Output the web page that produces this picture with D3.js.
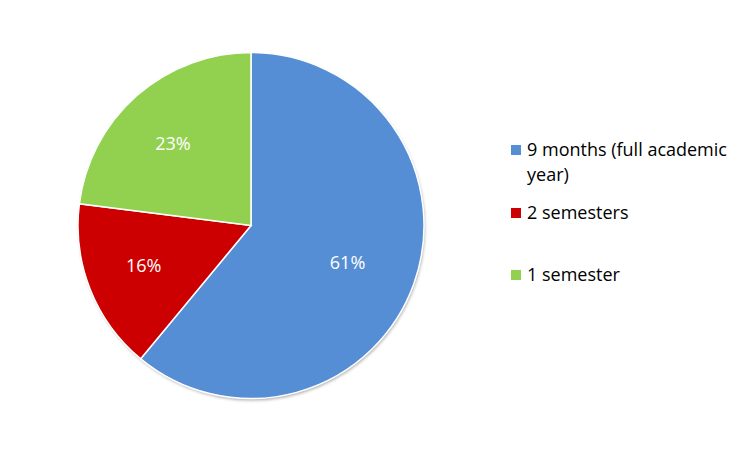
<!DOCTYPE html>
<html>
<head>
<meta charset="utf-8">
<script src="https://d3js.org/d3.v7.min.js"></script>
<style>
  body { margin: 0; background: #fff; }
  svg text { font-family: "Open Sans", Lato, sans-serif; }
</style>
</head>
<body>
<svg id="chart" width="752" height="451"></svg>
<script>
// chart data
var categories = ["9 months (full academic year)", "2 semesters", "1 semester"];
var values = [61, 16, 23];
var colors = ["#558ED5", "#CC0000", "#92D050"];
var legendLines = [["9 months (full academic", "year)"], ["2 semesters"], ["1 semester"]];

var svg = d3.select("#chart");
var cx = 251, cy = 225.5, radius = 173;

// soft shadow like the office chart
var defs = svg.append("defs");
var f = defs.append("filter").attr("id", "shadow")
  .attr("x", "-10%").attr("y", "-10%").attr("width", "120%").attr("height", "120%");
f.append("feDropShadow").attr("dx", 1).attr("dy", 2).attr("stdDeviation", 1.5)
  .attr("flood-color", "#000").attr("flood-opacity", 0.3);

var pie = d3.pie().sort(null).value(function (d) { return d; });
var arcs = pie(values);
var arc = d3.arc().innerRadius(0).outerRadius(radius);
var labelArc = d3.arc().innerRadius(radius * 0.63).outerRadius(radius * 0.63);

var g = svg.append("g").attr("transform", "translate(" + cx + "," + cy + ")");

g.append("circle").attr("r", radius).attr("fill", "#fff").attr("filter", "url(#shadow)");

g.selectAll("path.slice")
  .data(arcs)
  .enter()
  .append("path")
  .attr("class", "slice")
  .attr("d", arc)
  .attr("fill", function (d, i) { return colors[i]; })
  .attr("stroke", "#fff")
  .attr("stroke-width", 1.5);

g.selectAll("text.lbl")
  .data(arcs)
  .enter()
  .append("text")
  .attr("class", "lbl")
  .attr("transform", function (d) {
    var c = labelArc.centroid(d);
    return "translate(" + (c[0] - 6) + "," + c[1] + ")";
  })
  .attr("text-anchor", "middle")
  .attr("dy", "0.35em")
  .attr("fill", "#fff")
  .style("font-size", "18px")
  .text(function (d) { return d.value + "%"; });

// legend
var legendY = [150, 213, 275];
var legend = svg.append("g").attr("transform", "translate(511,0)");
var items = legend.selectAll("g.item")
  .data(categories)
  .enter()
  .append("g")
  .attr("class", "item")
  .attr("transform", function (d, i) { return "translate(0," + legendY[i] + ")"; });

items.append("rect")
  .attr("x", 0).attr("y", -5)
  .attr("width", 10).attr("height", 10)
  .attr("fill", function (d, i) { return colors[i]; });

items.append("text")
  .attr("x", 16)
  .attr("fill", "#000")
  .style("font-size", "18px")
  .selectAll("tspan")
  .data(function (d, i) { return legendLines[i]; })
  .enter()
  .append("tspan")
  .attr("x", 16)
  .attr("dy", function (d, j) { return j === 0 ? "0.35em" : "1.4em"; })
  .text(function (d) { return d; });
</script>
</body>
</html>
